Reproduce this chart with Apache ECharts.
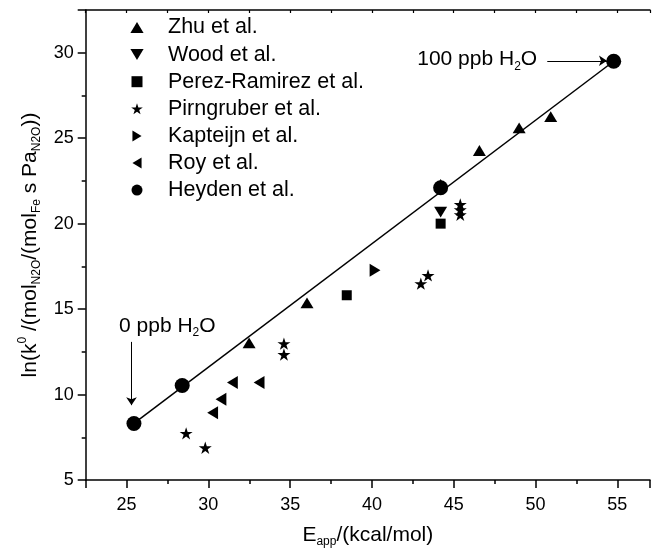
<!DOCTYPE html>
<html><head><meta charset="utf-8">
<script src="https://cdn.jsdelivr.net/npm/echarts@6/dist/echarts.min.js"></script>
<style>html,body{margin:0;padding:0;background:#fff}#c{width:653px;height:554px}</style>
</head><body><div id="c"></div>
<script>
const FONT = '"Liberation Sans", Arial, Helvetica, sans-serif';

// ---- data ----
const seriesNames = ['Zhu et al.', 'Wood et al.', 'Perez-Ramirez et al.', 'Pirngruber et al.', 'Kapteijn et al.', 'Roy et al.', 'Heyden et al.'];
const zhuX = [32.49, 36.03, 44.2, 46.57, 49.0, 50.93];
const zhuY = [13.02, 15.36, 22.3, 24.28, 25.6, 26.26];
const woodX = [44.2];
const woodY = [20.67];
const perezX = [38.46, 44.2];
const perezY = [15.81, 20.0];
const pirnX = [28.64, 29.81, 34.62, 34.62, 42.99, 43.43, 45.4, 45.4, 45.4];
const pirnY = [7.73, 6.89, 12.98, 12.34, 16.49, 16.97, 21.12, 20.81, 20.52];
const kapX = [40.19];
const kapY = [17.27];
const royX = [30.26, 30.77, 31.47, 33.1];
const royY = [8.94, 9.73, 10.71, 10.71];
const heydenX = [25.45, 28.4, 44.2, 54.78];
const heydenY = [8.31, 10.53, 22.1, 29.5];
const fitX = [25.45, 54.78];
const fitY = [8.31, 29.5];

const xTickLabels = [25, 30, 35, 40, 45, 50, 55];
const yTickLabels = [5, 10, 15, 20, 25, 30];

// annotations (data coordinates)
const arrowFromX = [50.72, 25.3];
const arrowFromY = [29.53, 13.08];
const arrowToX = [54.37, 25.3];
const arrowToY = [29.53, 9.38];
const noteLabels = ['100 ppb H', '0 ppb H'];
const noteX = [50.1, 24.54];
const noteY = [29.6, 14.0];
const noteAlign = ['right', 'left'];

const zip = (a, b) => a.map((v, i) => [v, b[i]]);

const SYM = {
  up: 'path://M0,10L6,0L12,10Z',
  down: 'path://M0,0L12,0L6,10Z',
  square: 'path://M0,0L10,0L10,10L0,10Z',
  star: 'path://M100,0L122.45,69.1L195.1,69.1L136.3,111.8L158.8,180.9L100,138.2L41.2,180.9L63.7,111.8L4.9,69.1L77.55,69.1Z',
  right: 'path://M0,0L10,6L0,12Z',
  left: 'path://M10,0L0,6L10,12Z',
  circle: 'circle'
};

const richBase = {
  m: { fontFamily: FONT, fontSize: 21, lineHeight: 26, color: '#000', verticalAlign: 'middle' },
  sub: { fontFamily: FONT, fontSize: 12, lineHeight: 12, color: '#000', verticalAlign: 'bottom' },
  sup: { fontFamily: FONT, fontSize: 12, lineHeight: 12, color: '#000', verticalAlign: 'top' }
};

function sc(name, xs, ys, sym, size) {
  return {
    name: name, type: 'scatter', data: zip(xs, ys), symbol: sym, symbolSize: size,
    symbolKeepAspect: true, itemStyle: { color: '#000', opacity: 1 }, silent: true, z: 3
  };
}

const chart = echarts.init(document.getElementById('c'), null, { renderer: 'canvas' });

const axisCommon = {
  type: 'value', min: 22.5, max: 57, splitNumber: 7,
  splitLine: { show: false },
  axisLine: { show: true, onZero: false, lineStyle: { color: '#000', width: 1.5 } }
};

chart.setOption({
  animation: false,
  backgroundColor: '#fff',
  textStyle: { fontFamily: FONT, color: '#000' },
  grid: { left: 85.7, right: 0, top: 10, bottom: 74 },
  legend: {
    data: seriesNames,
    orient: 'vertical', left: 130.4, top: 16.5, padding: 0,
    itemWidth: 52, itemHeight: 11, itemGap: 5.1,
    selectedMode: false,
    textStyle: { fontFamily: FONT, fontSize: 21.5, color: '#000', lineHeight: 21 }
  },
  xAxis: [
    Object.assign({}, axisCommon, {
      position: 'bottom',
      axisTick: { show: true, length: 8, inside: false, lineStyle: { color: '#000', width: 1.5 } },
      minorTick: { show: true, splitNumber: 2, length: 4, lineStyle: { color: '#000', width: 1.5 } },
      axisLabel: {
        fontFamily: FONT, fontSize: 18, color: '#000', margin: 16,
        formatter: v => xTickLabels.includes(v) ? String(v) : ''
      },
      name: '{m|E}{sub|app}{m|/(kcal/mol)}',
      nameLocation: 'middle', nameGap: 42,
      nameTextStyle: { rich: richBase }
    }),
    Object.assign({}, axisCommon, {
      position: 'top',
      axisTick: { show: true, length: 3, inside: true, lineStyle: { color: '#000', width: 1.2 } },
      minorTick: { show: true, splitNumber: 2, length: 3, lineStyle: { color: '#000', width: 1.2 } },
      axisLabel: { show: false }
    })
  ],
  yAxis: {
    type: 'value', min: 5, max: 32.5, interval: 5,
    splitLine: { show: false },
    axisLine: { show: true, onZero: false, lineStyle: { color: '#000', width: 1.5 } },
    axisTick: { show: true, length: 8, inside: false, lineStyle: { color: '#000', width: 1.5 } },
    minorTick: { show: true, splitNumber: 2, length: 4, lineStyle: { color: '#000', width: 1.5 } },
    axisLabel: {
      fontFamily: FONT, fontSize: 18, color: '#000', margin: 12,
      formatter: v => yTickLabels.includes(v) ? String(v) : ''
    },
    name: '{m|ln(k}{sup|0}{m| /(mol}{sub|N2O}{m|/(mol}{sub|Fe}{m| s Pa}{sub|N2O}{m|))}',
    nameLocation: 'middle', nameRotate: 90, nameGap: 29,
    nameTextStyle: { rich: richBase }
  },
  series: [
    {
      name: 'fit', type: 'line', data: zip(fitX, fitY), symbol: 'none', silent: true, z: 1,
      lineStyle: { color: '#000', width: 1.5 },
      markLine: {
        silent: true, animation: false,
        symbol: ['none', 'arrow'], symbolSize: 8,
        label: { show: false },
        lineStyle: { color: '#000', width: 1, type: 'solid' },
        data: arrowFromX.map((x0, i) => [
          { coord: [x0, arrowFromY[i]] },
          { coord: [arrowToX[i], arrowToY[i]] }
        ])
      }
    },
    sc(seriesNames[0], zhuX, zhuY, SYM.up, 13),
    sc(seriesNames[1], woodX, woodY, SYM.down, 13),
    sc(seriesNames[2], perezX, perezY, SYM.square, 10),
    sc(seriesNames[3], pirnX, pirnY, SYM.star, 13),
    sc(seriesNames[4], kapX, kapY, SYM.right, 13),
    sc(seriesNames[5], royX, royY, SYM.left, 13),
    sc(seriesNames[6], heydenX, heydenY, SYM.circle, 15)
  ]
});

const notes = noteLabels.map((t, i) => {
  const p = chart.convertToPixel({ gridIndex: 0 }, [noteX[i], noteY[i]]);
  return {
    type: 'text', x: p[0], y: p[1], silent: true, z: 10,
    style: {
      text: '{m|' + t + '}{sub|2}{m|O}', rich: richBase,
      align: noteAlign[i], verticalAlign: 'middle'
    }
  };
});
chart.setOption({ graphic: notes });
</script>
</body></html>
